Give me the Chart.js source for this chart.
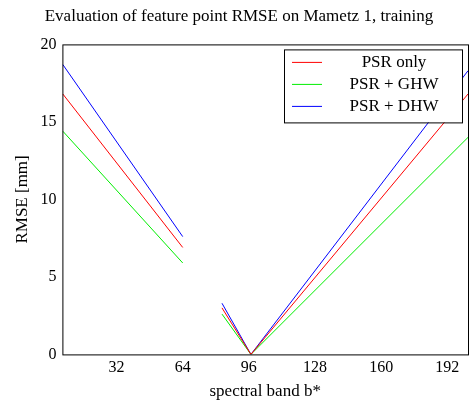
<!DOCTYPE html>
<html><head><meta charset="utf-8">
<script src="https://cdn.jsdelivr.net/npm/chart.js@4"></script>
<style>body{margin:0;background:#fff}#w{width:474px;height:414px}</style>
</head><body><div id="w"><canvas id="c"></canvas></div>
<script>
const bands = [6, 64, 65, 83, 97, 202];
const psrOnly = [16.8, 6.9, null, 3.0, 0, 16.8];
const psrGhw = [14.4, 5.9, null, 2.6, 0, 14.0];
const psrDhw = [18.7, 7.6, null, 3.3, 0, 18.3];
const seriesNames = ['PSR only', 'PSR + GHW', 'PSR + DHW'];
const colors = ['#ff0000', '#00ee00', '#0000ff'];
const xTicks = [32, 64, 96, 128, 160, 192];
const yTicks = [0, 5, 10, 15, 20];
const font = 'Liberation Serif';
const mk = (arr) => bands.map((b, i) => ({x: b, y: arr[i]}));
const sets = [psrOnly, psrGhw, psrDhw].map((a, i) => ({label: seriesNames[i], data: mk(a), borderColor: colors[i], borderWidth: 1, pointRadius: 0, spanGaps: false, tension: 0}));
const legendBox = {id: 'lb', afterDraw(ch) {
  const c = ch.ctx, a = ch.chartArea;
  const x1 = a.right - 184, y1 = a.top + 5, w = 178, h = 73;
  c.save(); c.fillStyle = '#fff'; c.fillRect(x1, y1, w, h);
  c.strokeStyle = '#000'; c.lineWidth = 1; c.strokeRect(x1 + .5, y1 + .5, w, h);
  c.font = '17px ' + font; c.textBaseline = 'middle'; c.textAlign = 'center';
  ch.data.datasets.forEach((d, i) => {
    const y = y1 + 13 + i * 22;
    c.strokeStyle = d.borderColor; c.beginPath(); c.moveTo(x1 + 8, y); c.lineTo(x1 + 38, y); c.stroke();
    c.fillStyle = '#000'; c.fillText(d.label, x1 + 110, y);
  });
  c.strokeStyle = '#000'; c.strokeRect(a.left + .5, a.top + .5, a.right - a.left, a.bottom - a.top);
  c.restore();
}};
new Chart(document.getElementById('c'), {
  type: 'line', data: {datasets: sets}, plugins: [legendBox],
  options: {responsive: true, maintainAspectRatio: false, animation: false,
    layout: {padding: {right: 6, top: 0, left: 10, bottom: 12}},
    plugins: {legend: {display: false}, tooltip: {enabled: false},
      title: {display: true, text: 'Evaluation of feature point RMSE on Mametz 1, training', color: '#000', font: {family: font, size: 17, weight: 'normal'}, padding: {top: 6, bottom: 18}}},
    scales: {
      x: {type: 'linear', min: 5.8, max: 202,
        afterBuildTicks: s => { s.ticks = xTicks.map(v => ({value: v})); },
        grid: {display: false, drawTicks: false}, border: {display: false},
        ticks: {color: '#000', font: {family: font, size: 16}, padding: 4},
        title: {display: true, text: 'spectral band b*', color: '#000', font: {family: font, size: 17}, padding: 0}},
      y: {min: 0, max: 20,
        afterBuildTicks: s => { s.ticks = yTicks.map(v => ({value: v})); },
        grid: {display: false, drawTicks: false}, border: {display: false},
        ticks: {color: '#000', font: {family: font, size: 16}, padding: 6},
        title: {display: true, text: 'RMSE [mm]', color: '#000', font: {family: font, size: 17}, padding: 2}}
    }}
});
</script></body></html>
